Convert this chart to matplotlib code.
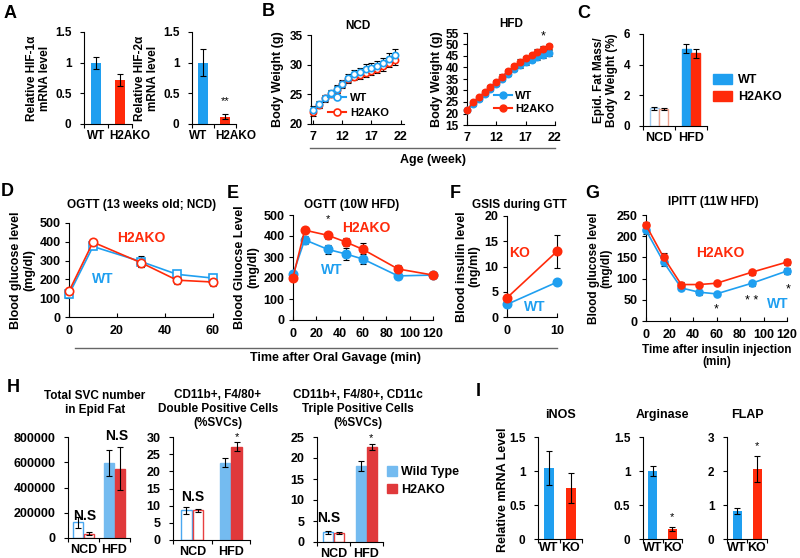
import matplotlib

matplotlib.use("Agg")

import matplotlib.pyplot as plt  # noqa: E402
import numpy as np  # noqa: E402
from matplotlib.lines import Line2D  # noqa: E402
from matplotlib.patches import Patch  # noqa: E402
from matplotlib.transforms import ScaledTranslation  # noqa: E402

# ───────────────────────────── Data ───────────────────────────────────────
# A: HIF mRNA
ab_labels = ["WT", "H2AKO"]
hif1_mean = [1.0, 0.72]
hif1_err = [0.1, 0.1]
hif2_mean = [1.0, 0.12]
hif2_err = [0.22, 0.04]

# B: body weight
weeks = [7, 8, 9, 10, 11, 12, 13, 14, 15, 16, 17, 18, 19, 20, 21]
ncd_wt = [22.4, 23.3, 24.3, 25.2, 25.9, 26.8, 27.8, 28.4, 28.7, 29.3, 29.4, 29.8, 30.3, 31.0, 31.7]
ncd_wt_err = [0.6, 0.6, 0.6, 0.6, 0.6, 0.6, 0.7, 0.7, 0.8, 0.8, 0.8, 0.8, 0.8, 0.9, 0.9]
ncd_ko = [22.0, 23.2, 24.3, 25.0, 25.8, 26.7, 27.5, 28.0, 28.2, 28.6, 28.9, 29.3, 29.7, 30.3, 30.8]
ncd_ko_err = [0.6, 0.5, 0.5, 0.5, 0.6, 0.6, 0.6, 0.6, 0.6, 0.7, 0.7, 0.7, 0.7, 0.7, 0.8]
hfd_wt = [21.5, 24.0, 26.2, 28.6, 30.8, 33.0, 35.0, 37.2, 39.4, 41.0, 42.3, 43.4, 44.5, 45.5, 46.5]
hfd_wt_err = [0.6, 0.7, 0.8, 0.8, 0.9, 0.9, 1.0, 1.0, 1.1, 1.1, 1.1, 1.2, 1.2, 1.2, 1.3]
hfd_ko = [21.5, 24.8, 27.0, 29.3, 31.5, 33.8, 36.0, 38.5, 40.6, 42.5, 44.0, 45.3, 46.8, 48.0, 49.2]
hfd_ko_err = [0.6, 0.7, 0.8, 0.8, 0.9, 0.9, 1.0, 1.0, 1.0, 1.1, 1.1, 1.1, 1.1, 1.2, 1.2]

# C: epididymal fat
diet_labels = ["NCD", "HFD"]
fat_ncd = [1.15, 1.1]
fat_ncd_err = [0.1, 0.06]
fat_hfd = [5.05, 4.75]
fat_hfd_err = [0.3, 0.3]

# D: OGTT NCD
d_time = [0, 10, 30, 45, 60]
d_wt = [121, 375, 295, 227, 207]
d_wt_err = [12, 15, 30, 20, 18]
d_ko = [137, 398, 289, 196, 186]
d_ko_err = [12, 12, 25, 22, 20]

# E: OGTT HFD
e_time = [0, 10, 30, 45, 60, 90, 120]
e_wt = [218, 382, 336, 315, 290, 210, 214]
e_wt_err = [15, 20, 22, 28, 22, 15, 12]
e_ko = [202, 428, 403, 372, 336, 243, 214]
e_ko_err = [12, 15, 15, 20, 30, 20, 12]

# F: GSIS
f_time = [0, 10]
f_wt = [2.5, 6.9]
f_wt_err = [0.4, 0.4]
f_ko = [3.8, 13.0]
f_ko_err = [0.6, 3.2]

# G: IPITT
g_time = [0, 15, 30, 45, 60, 90, 120]
g_wt = [214, 139, 78, 68, 64, 89, 118]
g_wt_err = [8, 10, 6, 6, 5, 6, 7]
g_ko = [226, 150, 86, 86, 89, 115, 139]
g_ko_err = [8, 10, 5, 4, 5, 6, 7]

# H: SVC
svc_ncd = [125000, 35000]
svc_ncd_err = [45000, 10000]
svc_hfd = [595000, 550000]
svc_hfd_err = [105000, 170000]
dp_ncd = [8.7, 8.6]
dp_ncd_err = [1.0, 0.4]
dp_hfd = [22.5, 27.2]
dp_hfd_err = [1.3, 1.2]
tp_ncd = [2.3, 2.2]
tp_ncd_err = [0.4, 0.3]
tp_hfd = [18.1, 22.6]
tp_hfd_err = [1.2, 0.8]

# I: mRNA
i_labels = ["WT", "KO"]
inos = [1.05, 0.75]
inos_err = [0.25, 0.22]
arg = [1.0, 0.15]
arg_err = [0.08, 0.03]
flap = [0.83, 2.07]
flap_err = [0.08, 0.38]

# ───────────────────────────── Style ──────────────────────────────────────
W, H = 800, 558
BLUE = "#1f9ff0"
RED = "#ff2a0a"
LBLUE = "#74bbf0"
LRED = "#e0393b"

plt.rcParams["font.family"] = ["Liberation Sans", "DejaVu Sans"]
plt.rcParams["font.weight"] = "bold"
plt.rcParams["font.size"] = 8
plt.rcParams["axes.linewidth"] = 0.8
plt.rcParams["axes.labelweight"] = "bold"

fig = plt.figure(figsize=(8, 5.58), dpi=100)


def px_axes(x0, y0, x1, y1):
    ax = fig.add_axes([x0 / W, 1 - y1 / H, (x1 - x0) / W, (y1 - y0) / H])
    for s in ("top", "right"):
        ax.spines[s].set_visible(False)
    ax.tick_params(length=3, width=0.8, labelsize=8.5, pad=3)
    return ax


def ftext(x, y, s, **kw):
    kw.setdefault("ha", "center")
    kw.setdefault("va", "center")
    fig.text(x / W, 1 - y / H, s, **kw)


def hline(x0, x1, y):
    fig.add_artist(Line2D([x0 / W, x1 / W], [1 - y / H, 1 - y / H], color="#666666", lw=1))


def cat_axis(ax, labels, size=9, shifts=None):
    ax.set_xlim(0, len(labels))
    ax.set_xticks(np.arange(len(labels)) + 0.5, labels)
    ax.set_xticks(np.arange(len(labels) + 1), minor=True)
    ax.tick_params(axis="x", which="major", length=0, labelsize=size, pad=4)
    ax.tick_params(axis="x", which="minor", length=3, width=0.8)
    if shifts:
        for lbl, dx in zip(ax.get_xticklabels(), shifts):
            lbl.set_transform(lbl.get_transform() + ScaledTranslation(dx / 100, 0, fig.dpi_scale_trans))


def yticks(ax, vals, lim):
    ax.set_ylim(*lim)
    ax.set_yticks(vals, [f"{v:g}" for v in vals])


def bar_pair(ax, means, errs, colors, width=0.42):
    x = np.arange(len(means)) + 0.5
    ax.bar(x, means, width, color=colors, zorder=2)
    ax.errorbar(x, means, yerr=errs, fmt="none", ecolor="black", elinewidth=0.8,
                capsize=2.5, capthick=0.8, zorder=3)


def grouped(ax, ncd, ncd_err, hfd, hfd_err, width, fills, edges):
    off = width / 2
    xs = [0.5 - off, 0.5 + off, 1.5 - off, 1.5 + off]
    vals = list(ncd) + list(hfd)
    errs = list(ncd_err) + list(hfd_err)
    ax.bar(xs, vals, width * 0.92, color=fills, edgecolor=edges, linewidth=1, zorder=2)
    ax.errorbar(xs, vals, yerr=errs, fmt="none", ecolor="black", elinewidth=0.8,
                capsize=2, capthick=0.8, zorder=3)


def curve(ax, x, y, err, color, marker, open_=False, ms=5):
    _, caps, bars = ax.errorbar(x, y, yerr=err, fmt="none", ecolor="black", elinewidth=0.8,
                                capsize=2.2, capthick=0.8, zorder=2)
    for art in list(caps) + list(bars):
        art.set_clip_on(False)
    ax.plot(x, y, color=color, lw=1.2, marker=marker, ms=ms, clip_on=False,
            mfc="white" if open_ else color, mec=color, mew=1.2, zorder=3)


# ───────────────────────────── Panel A ────────────────────────────────────
for (x0, x1), mean, err, name, shifts in [
        ((84, 132), hif1_mean, hif1_err, "Relative HIF-1α\nmRNA level", [0, 10]),
        ((192, 236), hif2_mean, hif2_err, "Relative HIF-2α\nmRNA level", [-5, 11])]:
    ax = px_axes(x0, 32, x1, 124)
    bar_pair(ax, mean, err, [BLUE, RED])
    cat_axis(ax, ab_labels, size=8.5, shifts=shifts)
    yticks(ax, [0, 0.5, 1, 1.5], (0, 1.5))
    ax.tick_params(axis="y", pad=6)
    ax.set_ylabel(name, fontsize=8.5, labelpad=3, linespacing=1.1)
    if mean is hif2_mean:
        ax.text(1.5, 0.3, "**", ha="center", va="bottom", fontsize=8, fontweight="normal")

# ───────────────────────────── Panel B ────────────────────────────────────
ax = px_axes(311, 35, 404, 124)
curve(ax, weeks, ncd_ko, ncd_ko_err, RED, "o", open_=True, ms=4.5)
curve(ax, weeks, ncd_wt, ncd_wt_err, BLUE, "o", open_=True, ms=4.5)
ax.set_xlim(6.6, 22.6)
ax.set_xticks([7, 12, 17, 22])
yticks(ax, [20, 25, 30, 35], (20, 35))
ax.tick_params(axis="x", direction="in", labelsize=9, pad=5)
ax.set_ylabel("Body Weight (g)", fontsize=9, labelpad=4)
ax.set_title("NCD", fontsize=8.5, fontweight="bold", pad=4)
ax.legend([Line2D([], [], color=BLUE, marker="o", mfc="white", ms=5, mew=1.2),
           Line2D([], [], color=RED, marker="o", mfc="white", ms=5, mew=1.2)],
          ["WT", "H2AKO"], loc="upper left", bbox_to_anchor=(328 / W, 1 - 93 / H),
          bbox_transform=fig.transFigure, frameon=False, borderpad=0, borderaxespad=0,
          handlelength=1.6, handletextpad=0.4, labelspacing=0.45, fontsize=8)

ax = px_axes(467, 33, 555, 125)
curve(ax, weeks, hfd_wt, hfd_wt_err, BLUE, "o", ms=4.5)
curve(ax, weeks, hfd_ko, hfd_ko_err, RED, "o", ms=4.5)
ax.set_xlim(7, 22)
ax.set_xticks([7, 12, 17, 22])
yticks(ax, [15, 20, 25, 30, 35, 40, 45, 50, 55], (15, 55))
ax.tick_params(axis="x", direction="in", labelsize=9, pad=5)
ax.set_ylabel("Body Weight (g)", fontsize=9, labelpad=2)
ax.set_title("HFD", fontsize=8.5, fontweight="bold", pad=4)
ax.text(20, 51, "*", ha="center", va="bottom", fontsize=9, fontweight="normal")
ax.legend([Line2D([], [], color=BLUE, marker="o", ms=5),
           Line2D([], [], color=RED, marker="o", ms=5)],
          ["WT", "H2AKO"], loc="upper left", bbox_to_anchor=(494 / W, 1 - 91 / H),
          bbox_transform=fig.transFigure, frameon=False, borderpad=0, borderaxespad=0,
          handlelength=1.6, handletextpad=0.3, labelspacing=0.3, fontsize=8)

hline(310, 555, 148)
ftext(433, 160, "Age (week)", fontsize=9, fontweight="bold")

# ───────────────────────────── Panel C ────────────────────────────────────
ax = px_axes(643, 34, 707, 126)
grouped(ax, fat_ncd, fat_ncd_err, fat_hfd, fat_hfd_err, 0.3,
        ["white", "white", BLUE, RED], ["#9cc8ee", "#eea08c", BLUE, RED])
cat_axis(ax, diet_labels)
yticks(ax, [0, 2, 4, 6], (0, 6))
ax.tick_params(axis="y", pad=6)
ax.set_ylabel("Epid. Fat Mass/\nBody Weight (%)", fontsize=8.5, labelpad=4, linespacing=1.1)
fig.legend([Patch(color=BLUE), Patch(color=RED)], ["WT", "H2AKO"], loc="upper left",
           bbox_to_anchor=(713 / W, 1 - 74 / H), frameon=False, borderpad=0, borderaxespad=0,
           handlelength=1.5, handleheight=0.8, handletextpad=0.5, labelspacing=0.4, fontsize=9)

# ───────────────────────────── Panel D ────────────────────────────────────
ax = px_axes(69, 223, 213, 317)
curve(ax, d_time, d_wt, d_wt_err, BLUE, "s", open_=True, ms=5.5)
curve(ax, d_time, d_ko, d_ko_err, RED, "o", open_=True, ms=6)
ax.set_xlim(0, 60)
ax.set_xticks([0, 20, 40, 60])
yticks(ax, [0, 100, 200, 300, 400, 500], (0, 500))
ax.tick_params(labelsize=9)
ax.tick_params(axis="x", direction="in", pad=6)
ax.set_ylabel("Blood glucose level\n(mg/dl)", fontsize=9, labelpad=3, linespacing=1.1)
ax.text(30, 420, "H2AKO", color=RED, fontsize=10, ha="center", va="center")
ax.text(14, 202, "WT", color=BLUE, fontsize=10, ha="center", va="center")
ftext(142, 205, "OGTT (13 weeks old; NCD)", fontsize=8.5, fontweight="bold")

# ───────────────────────────── Panel E ────────────────────────────────────
ax = px_axes(293, 215, 433, 320)
curve(ax, e_time, e_wt, e_wt_err, BLUE, "o", ms=6)
curve(ax, e_time, e_ko, e_ko_err, RED, "o", ms=6)
ax.set_xlim(0, 120)
ax.set_xticks([0, 20, 40, 60, 80, 100, 120])
yticks(ax, [0, 100, 200, 300, 400, 500], (0, 500))
ax.tick_params(labelsize=9)
ax.tick_params(axis="x", direction="in", pad=6)
ax.set_ylabel("Blood Gluocse Level\n(mg/dl)", fontsize=9, labelpad=3, linespacing=1.1)
ax.text(63, 438, "H2AKO", color=RED, fontsize=10, ha="center", va="center")
ax.text(33, 238, "WT", color=BLUE, fontsize=10, ha="center", va="center")
ax.text(30, 455, "*", ha="center", va="bottom", fontsize=8, fontweight="normal")
ftext(352, 205, "OGTT (10W HFD)", fontsize=8.5, fontweight="bold")

hline(75, 557, 348)
ftext(335, 358, "Time after Oral Gavage (min)", fontsize=9, fontweight="bold")

# ───────────────────────────── Panel F ────────────────────────────────────
ax = px_axes(507, 216, 557, 317)
curve(ax, f_time, f_wt, f_wt_err, BLUE, "o", ms=6)
curve(ax, f_time, f_ko, f_ko_err, RED, "o", ms=6)
ax.set_xlim(0, 10)
ax.set_xticks([0, 10])
yticks(ax, [0, 5, 10, 15, 20], (0, 20))
ax.tick_params(labelsize=9)
ax.tick_params(axis="x", direction="in", pad=6)
ax.set_ylabel("Blood insulin level\n(ng/ml)", fontsize=9, labelpad=3, linespacing=1.1)
ax.text(2.6, 12.7, "KO", color=RED, fontsize=10, ha="center", va="center")
ax.text(5.6, 2.0, "WT", color=BLUE, fontsize=10, ha="center", va="center")
ftext(519, 205, "GSIS during GTT", fontsize=8.5, fontweight="bold")

# ───────────────────────────── Panel G ────────────────────────────────────
ax = px_axes(646, 215, 787, 321)
curve(ax, g_time, g_wt, g_wt_err, BLUE, "o", ms=5)
curve(ax, g_time, g_ko, g_ko_err, RED, "o", ms=5)
ax.set_xlim(0, 120)
ax.set_xticks([0, 20, 40, 60, 80, 100, 120])
yticks(ax, [0, 50, 100, 150, 200, 250], (0, 250))
ax.tick_params(labelsize=9)
ax.tick_params(axis="x", direction="in", pad=6)
ax.set_ylabel("Blood glucose level\n(mg/dl)", fontsize=8.5, labelpad=3, linespacing=1.1)
ax.set_xlabel("Time after insulin injection\n(min)", fontsize=8.5, labelpad=2, linespacing=1.0)
ax.text(63, 160, "H2AKO", color=RED, fontsize=10, ha="center", va="center")
ax.text(112, 40, "WT", color=BLUE, fontsize=10, ha="center", va="center")
for xs, ys, s in [(60, 13, "*"), (90, 33, "* *"), (121, 60, "*")]:
    ax.text(xs, ys, s, ha="center", va="bottom", fontsize=9, fontweight="normal", clip_on=False)
ftext(713, 202, "IPITT (11W HFD)", fontsize=8.5, fontweight="bold")

# ───────────────────────────── Panel H ────────────────────────────────────
h_fills = ["white", "white", LBLUE, LRED]
h_edges = ["#4aa8f0", "#e84040", LBLUE, LRED]

ax = px_axes(68, 437, 130, 538)
grouped(ax, svc_ncd, svc_ncd_err, svc_hfd, svc_hfd_err, 0.34, h_fills, h_edges)
cat_axis(ax, diet_labels)
yticks(ax, [0, 200000, 400000, 600000, 800000], (0, 800000))
ax.tick_params(axis="y", labelsize=9, pad=6)
ax.text(0.55, 175000, "N.S", ha="center", va="center", fontsize=10)
ax.text(1.58, 810000, "N.S", ha="center", va="center", fontsize=10, clip_on=False)
ftext(95, 403, "Total SVC number\nin Epid Fat", fontsize=8.5, fontweight="bold", linespacing=1.25)

ax = px_axes(173, 437, 250, 540)
grouped(ax, dp_ncd, dp_ncd_err, dp_hfd, dp_hfd_err, 0.3, h_fills, h_edges)
cat_axis(ax, diet_labels)
yticks(ax, [0, 5, 10, 15, 20, 25, 30], (0, 30))
ax.tick_params(axis="y", labelsize=9, pad=6)
ax.text(0.5, 12.5, "N.S", ha="center", va="center", fontsize=10)
ax.text(1.65, 28.6, "*", ha="center", va="bottom", fontsize=8, fontweight="normal")
ftext(218, 409, "CD11b+, F4/80+\nDouble Positive Cells\n(%SVCs)", fontsize=8.5,
      fontweight="bold", linespacing=1.25)

ax = px_axes(317, 437, 383, 542)
grouped(ax, tp_ncd, tp_ncd_err, tp_hfd, tp_hfd_err, 0.34, h_fills, h_edges)
cat_axis(ax, diet_labels)
yticks(ax, [0, 5, 10, 15, 20, 25], (0, 25))
ax.tick_params(axis="y", labelsize=9, pad=6)
ax.text(0.35, 5.7, "N.S", ha="center", va="center", fontsize=10)
ax.text(1.65, 23.6, "*", ha="center", va="bottom", fontsize=8, fontweight="normal")
ftext(358, 409, "CD11b+, F4/80+, CD11c\nTriple Positive Cells\n(%SVCs)", fontsize=8.5,
      fontweight="bold", linespacing=1.25)
fig.legend([Patch(color=LBLUE), Patch(color=LRED)], ["Wild Type", "H2AKO"], loc="upper left",
           bbox_to_anchor=(387 / W, 1 - 466 / H), frameon=False, borderpad=0, borderaxespad=0,
           handlelength=0.8, handleheight=0.8, handletextpad=0.3, labelspacing=0.45, fontsize=9)

# ───────────────────────────── Panel I ────────────────────────────────────
for (x0, x1), vals, errs, title, ticks, lim, star in [
        ((538, 582), inos, inos_err, "iNOS", [0, 0.5, 1, 1.5], (0, 1.5), None),
        ((643, 682), arg, arg_err, "Arginase", [0, 0.5, 1, 1.5], (0, 1.5), 0.25),
        ((727, 767), flap, flap_err, "FLAP", [0, 1, 2, 3], (0, 3), 2.6)]:
    ax = px_axes(x0, 437, x1, 539)
    bar_pair(ax, vals, errs, [BLUE, RED], width=0.45)
    cat_axis(ax, i_labels)
    yticks(ax, ticks, lim)
    ax.tick_params(axis="y", pad=6)
    ax.tick_params(axis="x", which="major", pad=2)
    ax.set_title(title, fontsize=9, fontweight="bold", pad=14)
    if star is not None:
        ax.text(1.5, star, "*", ha="center", va="bottom", fontsize=8, fontweight="normal")
ftext(503, 490, "Relative mRNA Level", fontsize=9, fontweight="bold", rotation=90)

# ───────────────────────────── Panel letters ──────────────────────────────
for x, y, s in [(10, 13, "A"), (268, 12, "B"), (584, 13, "C"), (7, 192, "D"), (233, 193, "E"),
                (455, 193, "F"), (592, 193, "G"), (13, 387, "H"), (478, 392, "I")]:
    ftext(x, y, s, fontsize=13, fontweight="bold")

fig.savefig("out.png", dpi=100)
